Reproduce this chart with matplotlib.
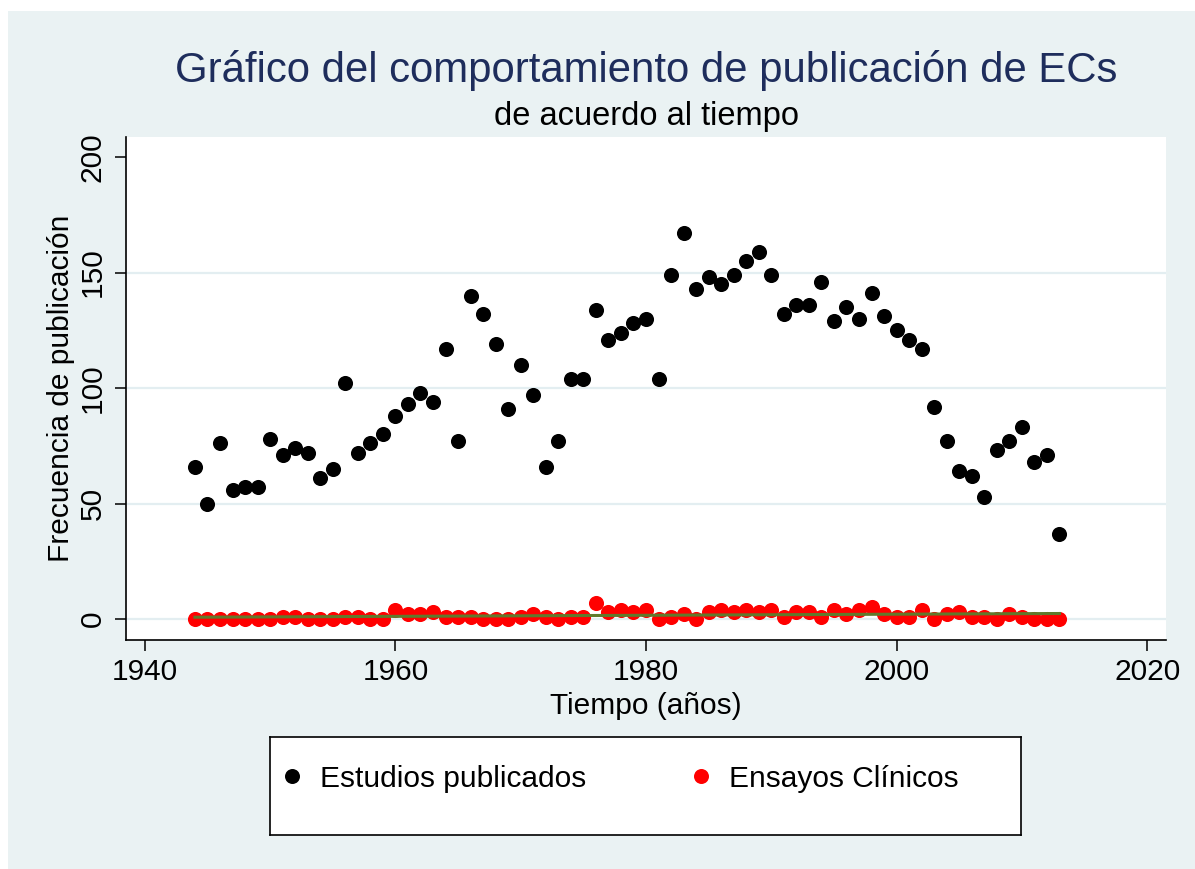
import numpy as np
import matplotlib
matplotlib.use('Agg')
import matplotlib.pyplot as plt
from matplotlib.patches import Rectangle
from matplotlib.lines import Line2D

plt.rcParams['font.family'] = ['Liberation Sans', 'DejaVu Sans']

years = list(range(1944, 2014))
estudios = [66, 50, 76, 56, 57, 57, 78, 71, 74, 72,
            61, 65, 102, 72, 76, 80, 88, 93, 98, 94,
            117, 77, 140, 132, 119, 91, 110, 97, 66, 77,
            104, 104, 134, 121, 124, 128, 130, 104, 149, 167,
            143, 148, 145, 149, 155, 159, 149, 132, 136, 136,
            146, 129, 135, 130, 141, 131, 125, 121, 117, 92,
            77, 64, 62, 53, 73, 77, 83, 68, 71, 37]
ensayos = [0, 0, 0, 0, 0, 0, 0, 1, 1, 0,
           0, 0, 1, 1, 0, 0, 4, 2, 2, 3,
           1, 1, 1, 0, 0, 0, 1, 2, 1, 0,
           1, 1, 7, 3, 4, 3, 4, 0, 1, 2,
           0, 3, 4, 3, 4, 3, 4, 1, 3, 3,
           1, 4, 2, 4, 5, 2, 1, 1, 4, 0,
           2, 3, 1, 1, 0, 2, 1, 0, 0, 0]

xticks = [1940, 1960, 1980, 2000, 2020]
yticks = [0, 50, 100, 150, 200]

W, H = 1195, 869
BG = '#EAF2F3'
NAVY = '#1e2d5c'
FS = 21.5


def fx(px):
    return px / W


def fy(py):
    return 1 - py / H


fig = plt.figure(figsize=(W / 100, H / 100), dpi=100, facecolor='white')
fig.add_artist(Rectangle((fx(8), 0), 1 - fx(8), fy(11), transform=fig.transFigure,
                         facecolor=BG, edgecolor='none', zorder=0))

ax = fig.add_axes([fx(126), fy(640), fx(1166) - fx(126), fy(137) - fy(640)])
ax.set_facecolor('white')

ax.scatter(years, estudios, s=118, color='black', linewidths=0, zorder=3)
ax.scatter(years, ensayos, s=118, color='#ff0000', linewidths=0, zorder=4)

# linear fit of the clinical trials series
b, a = np.polyfit(years, ensayos, 1)
yr = np.array([years[0], years[-1]])
ax.plot(yr, a + b * yr, color='#5f7a2c', lw=2.2, zorder=5)

ax.set_xlim(1938.5, 2021.5)
ax.set_ylim(-9.1, 208.7)
ax.set_xticks(xticks)
ax.set_yticks(yticks)
for v in yticks[:-1]:
    ax.axhline(v, color='#e3eef1', lw=1.6, zorder=1)

for s in ['top', 'right']:
    ax.spines[s].set_visible(False)
for s in ['left', 'bottom']:
    ax.spines[s].set_linewidth(1.2)
ax.tick_params(axis='both', length=8, width=1.1, labelsize=FS, direction='out')
ax.tick_params(axis='x', pad=5)
ax.tick_params(axis='y', pad=6, labelrotation=90)
for lab in ax.get_yticklabels():
    lab.set_va('center')

ax.set_xlabel('Tiempo (años)', fontsize=FS, va='baseline')
ax.xaxis.set_label_coords(0.5, -(714 - 640) / 503)
ax.set_ylabel('Frecuencia de publicación', fontsize=FS, va='bottom', rotation=90)
ax.yaxis.set_label_coords(-(126 - 75) / 1040, 0.5)

fig.text(fx(646), fy(82), 'Gráfico del comportamiento de publicación de ECs',
         ha='center', va='baseline', fontsize=30.2, color=NAVY)
fig.text(fx(646), fy(125), 'de acuerdo al tiempo',
         ha='center', va='baseline', fontsize=23.5, color='black')

# legend box
lax = fig.add_axes([fx(270), fy(835), fx(1021) - fx(270), fy(737) - fy(835)])
lax.set_facecolor('white')
lax.set_xticks([])
lax.set_yticks([])
for s in lax.spines.values():
    s.set_linewidth(1.2)
    s.set_color('black')
handles = [Line2D([], [], ls='none', marker='o', ms=10.8, color='black', mew=0),
           Line2D([], [], ls='none', marker='o', ms=10.8, color='#ff0000', mew=0)]
lax.legend(handles, ['Estudios publicados', 'Ensayos Clínicos'], ncol=2,
           loc='center left', bbox_to_anchor=(0.013, 0.575), frameon=False,
           fontsize=FS, handlelength=0.8, handletextpad=0.55,
           columnspacing=3.43, borderpad=0, borderaxespad=0)

fig.savefig('out.png', dpi=100, facecolor='white')
